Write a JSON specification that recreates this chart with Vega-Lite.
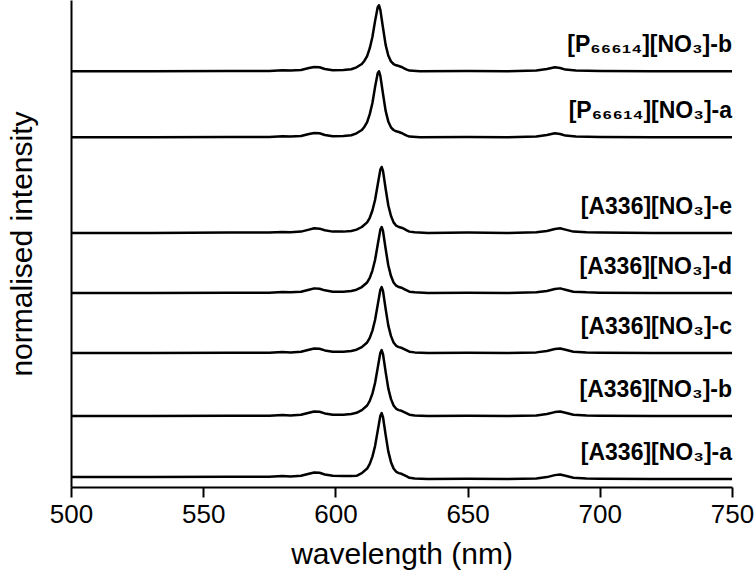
{
  "$schema": "https://vega.github.io/schema/vega-lite/v6.json",
  "width": 661,
  "height": 487,
  "autosize": {"type": "none"},
  "padding": {"left": 71, "top": 0, "right": 24, "bottom": 95},
  "config": {"view": {"stroke": null}, "font": "Liberation Sans"},
  "layer": [
    {
      "data": {"values": [
        {"s":"Pb","x":500,"y":6.30},{"s":"Pb","x":530,"y":6.30},{"s":"Pb","x":560,"y":6.305},{"s":"Pb","x":575,"y":6.305},{"s":"Pb","x":580,"y":6.315},{"s":"Pb","x":583,"y":6.31},{"s":"Pb","x":587,"y":6.32},{"s":"Pb","x":590,"y":6.35},{"s":"Pb","x":592,"y":6.365},{"s":"Pb","x":594,"y":6.36},{"s":"Pb","x":596,"y":6.335},{"s":"Pb","x":599,"y":6.315},{"s":"Pb","x":603,"y":6.32},{"s":"Pb","x":606,"y":6.33},{"s":"Pb","x":608,"y":6.36},{"s":"Pb","x":610,"y":6.41},{"s":"Pb","x":611,"y":6.46},{"s":"Pb","x":612,"y":6.53},{"s":"Pb","x":613,"y":6.65},{"s":"Pb","x":614,"y":6.82},{"s":"Pb","x":615,"y":7.06},{"s":"Pb","x":616,"y":7.27},{"s":"Pb","x":616.5,"y":7.30},{"s":"Pb","x":617,"y":7.23},{"s":"Pb","x":618,"y":6.96},{"s":"Pb","x":619,"y":6.70},{"s":"Pb","x":620,"y":6.54},{"s":"Pb","x":621,"y":6.45},{"s":"Pb","x":622,"y":6.41},{"s":"Pb","x":623,"y":6.39},{"s":"Pb","x":624,"y":6.38},{"s":"Pb","x":625,"y":6.365},{"s":"Pb","x":626,"y":6.345},{"s":"Pb","x":627,"y":6.325},{"s":"Pb","x":628,"y":6.31},{"s":"Pb","x":632,"y":6.30},{"s":"Pb","x":650,"y":6.305},{"s":"Pb","x":665,"y":6.30},{"s":"Pb","x":676,"y":6.31},{"s":"Pb","x":680,"y":6.335},{"s":"Pb","x":683,"y":6.36},{"s":"Pb","x":685,"y":6.35},{"s":"Pb","x":687,"y":6.325},{"s":"Pb","x":691,"y":6.31},{"s":"Pb","x":700,"y":6.305},{"s":"Pb","x":720,"y":6.30},{"s":"Pb","x":750,"y":6.30},

        {"s":"Pa","x":500,"y":5.30},{"s":"Pa","x":530,"y":5.30},{"s":"Pa","x":560,"y":5.305},{"s":"Pa","x":575,"y":5.305},{"s":"Pa","x":580,"y":5.315},{"s":"Pa","x":583,"y":5.31},{"s":"Pa","x":587,"y":5.32},{"s":"Pa","x":590,"y":5.35},{"s":"Pa","x":592,"y":5.365},{"s":"Pa","x":594,"y":5.36},{"s":"Pa","x":596,"y":5.335},{"s":"Pa","x":599,"y":5.315},{"s":"Pa","x":603,"y":5.32},{"s":"Pa","x":606,"y":5.33},{"s":"Pa","x":608,"y":5.36},{"s":"Pa","x":610,"y":5.41},{"s":"Pa","x":611,"y":5.46},{"s":"Pa","x":612,"y":5.53},{"s":"Pa","x":613,"y":5.65},{"s":"Pa","x":614,"y":5.82},{"s":"Pa","x":615,"y":6.06},{"s":"Pa","x":616,"y":6.27},{"s":"Pa","x":616.5,"y":6.30},{"s":"Pa","x":617,"y":6.23},{"s":"Pa","x":618,"y":5.96},{"s":"Pa","x":619,"y":5.70},{"s":"Pa","x":620,"y":5.54},{"s":"Pa","x":621,"y":5.45},{"s":"Pa","x":622,"y":5.41},{"s":"Pa","x":623,"y":5.39},{"s":"Pa","x":624,"y":5.38},{"s":"Pa","x":625,"y":5.365},{"s":"Pa","x":626,"y":5.345},{"s":"Pa","x":627,"y":5.325},{"s":"Pa","x":628,"y":5.31},{"s":"Pa","x":632,"y":5.30},{"s":"Pa","x":650,"y":5.305},{"s":"Pa","x":665,"y":5.30},{"s":"Pa","x":676,"y":5.31},{"s":"Pa","x":680,"y":5.335},{"s":"Pa","x":683,"y":5.36},{"s":"Pa","x":685,"y":5.35},{"s":"Pa","x":687,"y":5.325},{"s":"Pa","x":691,"y":5.31},{"s":"Pa","x":700,"y":5.305},{"s":"Pa","x":720,"y":5.30},{"s":"Pa","x":750,"y":5.30},

        {"s":"e","x":500,"y":3.85},{"s":"e","x":530,"y":3.85},{"s":"e","x":560,"y":3.855},{"s":"e","x":575,"y":3.855},{"s":"e","x":580,"y":3.865},{"s":"e","x":583,"y":3.86},{"s":"e","x":587,"y":3.87},{"s":"e","x":590,"y":3.90},{"s":"e","x":592,"y":3.92},{"s":"e","x":594,"y":3.915},{"s":"e","x":596,"y":3.89},{"s":"e","x":599,"y":3.87},{"s":"e","x":603,"y":3.87},{"s":"e","x":606,"y":3.88},{"s":"e","x":608,"y":3.90},{"s":"e","x":610,"y":3.94},{"s":"e","x":612,"y":4.01},{"s":"e","x":613,"y":4.08},{"s":"e","x":614,"y":4.19},{"s":"e","x":615,"y":4.35},{"s":"e","x":616,"y":4.58},{"s":"e","x":617,"y":4.81},{"s":"e","x":617.5,"y":4.85},{"s":"e","x":618,"y":4.79},{"s":"e","x":619,"y":4.52},{"s":"e","x":620,"y":4.27},{"s":"e","x":621,"y":4.11},{"s":"e","x":622,"y":4.01},{"s":"e","x":623,"y":3.96},{"s":"e","x":624,"y":3.94},{"s":"e","x":625,"y":3.93},{"s":"e","x":626,"y":3.91},{"s":"e","x":627,"y":3.89},{"s":"e","x":628,"y":3.87},{"s":"e","x":630,"y":3.86},{"s":"e","x":635,"y":3.85},{"s":"e","x":650,"y":3.855},{"s":"e","x":665,"y":3.85},{"s":"e","x":676,"y":3.86},{"s":"e","x":680,"y":3.88},{"s":"e","x":683,"y":3.91},{"s":"e","x":685,"y":3.92},{"s":"e","x":687,"y":3.90},{"s":"e","x":690,"y":3.87},{"s":"e","x":695,"y":3.86},{"s":"e","x":700,"y":3.855},{"s":"e","x":720,"y":3.85},{"s":"e","x":750,"y":3.85},

        {"s":"d","x":500,"y":2.94},{"s":"d","x":530,"y":2.94},{"s":"d","x":560,"y":2.945},{"s":"d","x":575,"y":2.945},{"s":"d","x":580,"y":2.955},{"s":"d","x":583,"y":2.95},{"s":"d","x":587,"y":2.96},{"s":"d","x":590,"y":2.99},{"s":"d","x":592,"y":3.01},{"s":"d","x":594,"y":3.005},{"s":"d","x":596,"y":2.98},{"s":"d","x":599,"y":2.96},{"s":"d","x":603,"y":2.96},{"s":"d","x":606,"y":2.97},{"s":"d","x":608,"y":2.99},{"s":"d","x":610,"y":3.03},{"s":"d","x":612,"y":3.10},{"s":"d","x":613,"y":3.17},{"s":"d","x":614,"y":3.28},{"s":"d","x":615,"y":3.44},{"s":"d","x":616,"y":3.67},{"s":"d","x":617,"y":3.90},{"s":"d","x":617.5,"y":3.94},{"s":"d","x":618,"y":3.88},{"s":"d","x":619,"y":3.61},{"s":"d","x":620,"y":3.36},{"s":"d","x":621,"y":3.20},{"s":"d","x":622,"y":3.10},{"s":"d","x":623,"y":3.05},{"s":"d","x":624,"y":3.03},{"s":"d","x":625,"y":3.02},{"s":"d","x":626,"y":3.00},{"s":"d","x":627,"y":2.98},{"s":"d","x":628,"y":2.96},{"s":"d","x":630,"y":2.95},{"s":"d","x":635,"y":2.94},{"s":"d","x":650,"y":2.945},{"s":"d","x":665,"y":2.94},{"s":"d","x":676,"y":2.95},{"s":"d","x":680,"y":2.97},{"s":"d","x":683,"y":3.00},{"s":"d","x":685,"y":3.01},{"s":"d","x":687,"y":2.99},{"s":"d","x":690,"y":2.96},{"s":"d","x":695,"y":2.95},{"s":"d","x":700,"y":2.945},{"s":"d","x":720,"y":2.94},{"s":"d","x":750,"y":2.94},

        {"s":"c","x":500,"y":2.03},{"s":"c","x":530,"y":2.03},{"s":"c","x":560,"y":2.035},{"s":"c","x":575,"y":2.035},{"s":"c","x":580,"y":2.045},{"s":"c","x":583,"y":2.04},{"s":"c","x":587,"y":2.05},{"s":"c","x":590,"y":2.08},{"s":"c","x":592,"y":2.10},{"s":"c","x":594,"y":2.095},{"s":"c","x":596,"y":2.07},{"s":"c","x":599,"y":2.05},{"s":"c","x":603,"y":2.05},{"s":"c","x":606,"y":2.06},{"s":"c","x":608,"y":2.08},{"s":"c","x":610,"y":2.12},{"s":"c","x":612,"y":2.19},{"s":"c","x":613,"y":2.26},{"s":"c","x":614,"y":2.37},{"s":"c","x":615,"y":2.53},{"s":"c","x":616,"y":2.76},{"s":"c","x":617,"y":2.99},{"s":"c","x":617.5,"y":3.03},{"s":"c","x":618,"y":2.97},{"s":"c","x":619,"y":2.70},{"s":"c","x":620,"y":2.45},{"s":"c","x":621,"y":2.29},{"s":"c","x":622,"y":2.19},{"s":"c","x":623,"y":2.14},{"s":"c","x":624,"y":2.12},{"s":"c","x":625,"y":2.11},{"s":"c","x":626,"y":2.09},{"s":"c","x":627,"y":2.07},{"s":"c","x":628,"y":2.05},{"s":"c","x":630,"y":2.04},{"s":"c","x":635,"y":2.03},{"s":"c","x":650,"y":2.035},{"s":"c","x":665,"y":2.03},{"s":"c","x":676,"y":2.04},{"s":"c","x":680,"y":2.06},{"s":"c","x":683,"y":2.09},{"s":"c","x":685,"y":2.10},{"s":"c","x":687,"y":2.08},{"s":"c","x":690,"y":2.05},{"s":"c","x":695,"y":2.04},{"s":"c","x":700,"y":2.035},{"s":"c","x":720,"y":2.03},{"s":"c","x":750,"y":2.03},

        {"s":"b","x":500,"y":1.075},{"s":"b","x":530,"y":1.075},{"s":"b","x":560,"y":1.08},{"s":"b","x":575,"y":1.08},{"s":"b","x":580,"y":1.09},{"s":"b","x":583,"y":1.085},{"s":"b","x":587,"y":1.095},{"s":"b","x":590,"y":1.125},{"s":"b","x":592,"y":1.145},{"s":"b","x":594,"y":1.14},{"s":"b","x":596,"y":1.115},{"s":"b","x":599,"y":1.095},{"s":"b","x":603,"y":1.095},{"s":"b","x":606,"y":1.105},{"s":"b","x":608,"y":1.125},{"s":"b","x":610,"y":1.165},{"s":"b","x":612,"y":1.235},{"s":"b","x":613,"y":1.305},{"s":"b","x":614,"y":1.415},{"s":"b","x":615,"y":1.575},{"s":"b","x":616,"y":1.805},{"s":"b","x":617,"y":2.035},{"s":"b","x":617.5,"y":2.075},{"s":"b","x":618,"y":2.015},{"s":"b","x":619,"y":1.745},{"s":"b","x":620,"y":1.495},{"s":"b","x":621,"y":1.335},{"s":"b","x":622,"y":1.235},{"s":"b","x":623,"y":1.185},{"s":"b","x":624,"y":1.165},{"s":"b","x":625,"y":1.155},{"s":"b","x":626,"y":1.135},{"s":"b","x":627,"y":1.115},{"s":"b","x":628,"y":1.095},{"s":"b","x":630,"y":1.085},{"s":"b","x":635,"y":1.075},{"s":"b","x":650,"y":1.08},{"s":"b","x":665,"y":1.075},{"s":"b","x":676,"y":1.085},{"s":"b","x":680,"y":1.105},{"s":"b","x":683,"y":1.135},{"s":"b","x":685,"y":1.145},{"s":"b","x":687,"y":1.125},{"s":"b","x":690,"y":1.095},{"s":"b","x":695,"y":1.085},{"s":"b","x":700,"y":1.08},{"s":"b","x":720,"y":1.075},{"s":"b","x":750,"y":1.075},

        {"s":"a","x":500,"y":0.15},{"s":"a","x":530,"y":0.15},{"s":"a","x":560,"y":0.155},{"s":"a","x":575,"y":0.155},{"s":"a","x":580,"y":0.165},{"s":"a","x":583,"y":0.16},{"s":"a","x":587,"y":0.17},{"s":"a","x":590,"y":0.20},{"s":"a","x":592,"y":0.22},{"s":"a","x":594,"y":0.215},{"s":"a","x":596,"y":0.19},{"s":"a","x":599,"y":0.17},{"s":"a","x":603,"y":0.165},{"s":"a","x":606,"y":0.165},{"s":"a","x":608,"y":0.17},{"s":"a","x":610,"y":0.21},{"s":"a","x":612,"y":0.28},{"s":"a","x":613,"y":0.35},{"s":"a","x":614,"y":0.46},{"s":"a","x":615,"y":0.62},{"s":"a","x":616,"y":0.85},{"s":"a","x":617,"y":1.08},{"s":"a","x":617.5,"y":1.12},{"s":"a","x":618,"y":1.06},{"s":"a","x":619,"y":0.79},{"s":"a","x":620,"y":0.54},{"s":"a","x":621,"y":0.38},{"s":"a","x":622,"y":0.28},{"s":"a","x":623,"y":0.23},{"s":"a","x":624,"y":0.21},{"s":"a","x":625,"y":0.20},{"s":"a","x":626,"y":0.18},{"s":"a","x":627,"y":0.16},{"s":"a","x":628,"y":0.14},{"s":"a","x":630,"y":0.13},{"s":"a","x":635,"y":0.12},{"s":"a","x":650,"y":0.125},{"s":"a","x":665,"y":0.12},{"s":"a","x":676,"y":0.13},{"s":"a","x":680,"y":0.15},{"s":"a","x":683,"y":0.18},{"s":"a","x":685,"y":0.19},{"s":"a","x":687,"y":0.17},{"s":"a","x":690,"y":0.14},{"s":"a","x":695,"y":0.13},{"s":"a","x":700,"y":0.125},{"s":"a","x":720,"y":0.12},{"s":"a","x":750,"y":0.12}
      ]},
      "mark": {"type": "line", "color": "black", "strokeWidth": 2.5, "strokeJoin": "round"},
      "encoding": {
        "x": {
          "field": "x", "type": "quantitative",
          "scale": {"domain": [500, 750], "nice": false, "zero": false},
          "axis": {
            "values": [500, 550, 600, 650, 700, 750],
            "grid": false,
            "domainColor": "black", "domainWidth": 2,
            "tickColor": "black", "tickWidth": 2, "tickSize": 10,
            "labelFontSize": 26, "labelColor": "black", "labelPadding": 4, "labelFlush": false,
            "title": "wavelength (nm)", "titleFontSize": 30, "titleFontWeight": "normal",
            "titleColor": "black", "titlePadding": 12
          }
        },
        "y": {
          "field": "y", "type": "quantitative",
          "scale": {"domain": [0, 7.38], "nice": false, "zero": false},
          "axis": {
            "ticks": false, "labels": false, "grid": false,
            "domainColor": "black", "domainWidth": 2,
            "title": "normalised intensity", "titleFontSize": 30, "titleFontWeight": "normal",
            "titleColor": "black", "titlePadding": 34
          }
        },
        "detail": {"field": "s"}
      }
    },
    {
      "data": {"values": [
        {"t": "[P₆₆₆₁₄][NO₃]-b", "x": 750, "y": 6.30},
        {"t": "[P₆₆₆₁₄][NO₃]-a", "x": 750, "y": 5.30},
        {"t": "[A336][NO₃]-e", "x": 750, "y": 3.85},
        {"t": "[A336][NO₃]-d", "x": 750, "y": 2.94},
        {"t": "[A336][NO₃]-c", "x": 750, "y": 2.03},
        {"t": "[A336][NO₃]-b", "x": 750, "y": 1.075},
        {"t": "[A336][NO₃]-a", "x": 750, "y": 0.12}
      ]},
      "mark": {"type": "text", "align": "right", "baseline": "alphabetic", "dy": -19, "fontSize": 23, "fontWeight": "bold", "color": "black"},
      "encoding": {
        "x": {"field": "x", "type": "quantitative"},
        "y": {"field": "y", "type": "quantitative"},
        "text": {"field": "t"}
      }
    }
  ]
}
